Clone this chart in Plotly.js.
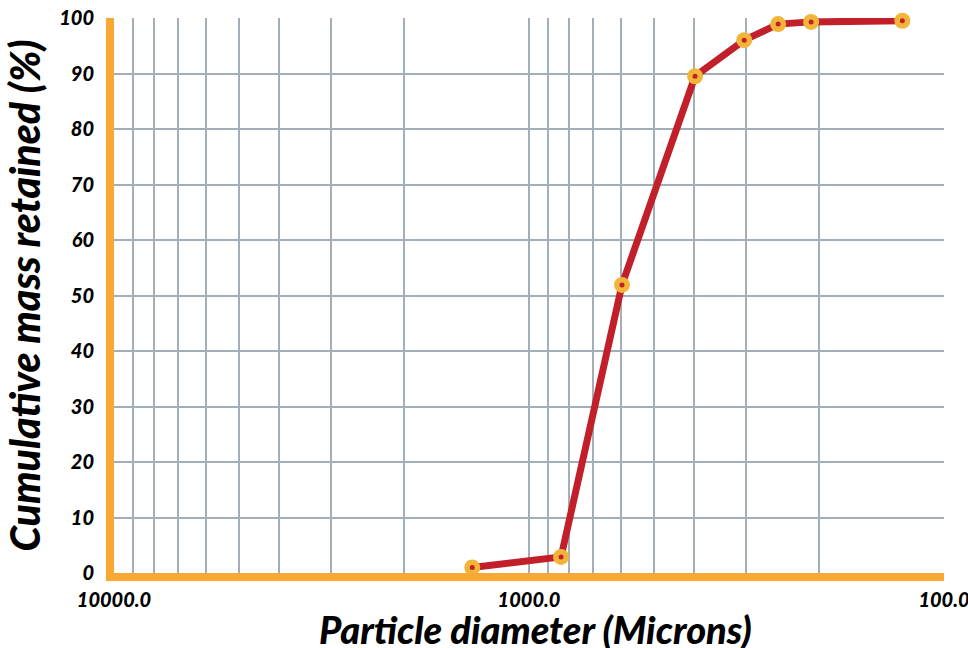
<!DOCTYPE html>
<html>
<head>
<meta charset="utf-8">
<script src="https://cdn.plot.ly/plotly-3.0.1.min.js"></script>
<style>html,body{margin:0;padding:0;background:#fff;}#chart{width:968px;height:648px;}</style>
</head>
<body>
<div id="chart"></div>
<script>
// Data
const diameters = [1370, 837, 597, 398, 303, 251, 209, 126];       // microns
const cumRetained = [1.0, 2.9, 51.9, 89.5, 96.0, 98.9, 99.3, 99.5]; // %

const xGridVals = [10000, 9000, 8000, 7000, 6000, 5000, 4000, 3000, 2000,
                   1000, 900, 800, 700, 600, 500, 400, 300, 200, 100];
const xLabelText = {10000: "10000.0", 1000: "1000.0", 100: "100.0"};
const xGridText = xGridVals.map(v => xLabelText[v] || "");
const yTicks = [0, 10, 20, 30, 40, 50, 60, 70, 80, 90, 100];
const xTitle = "Particle diameter (Microns)";
const yTitle = "Cumulative mass retained (%)";

const FONT = "'Lato Black', Lato, sans-serif";

const traces = [
  {
    x: diameters, y: cumRetained, type: "scatter", mode: "lines+markers",
    line: {color: "#C1202A", width: 7},
    marker: {color: "#F2B53A", size: 16, line: {width: 0}},
    hoverinfo: "skip", cliponaxis: false
  },
  {
    x: diameters, y: cumRetained, type: "scatter", mode: "markers",
    marker: {color: "#C1202A", size: 5, line: {width: 0}},
    hoverinfo: "skip", cliponaxis: false
  }
];

const layout = {
  width: 968, height: 648,
  margin: {l: 114, r: 24, t: 18, b: 75},
  paper_bgcolor: "#ffffff", plot_bgcolor: "#ffffff",
  showlegend: false,
  font: {family: FONT, color: "#000"},
  xaxis: {
    type: "log", range: [4, 2], autorange: false,
    tickmode: "array", tickvals: xGridVals, ticktext: xGridText,
    showgrid: true, gridcolor: "#A3AEB9", gridwidth: 2,
    zeroline: false, showline: true, linecolor: "#F9A834", linewidth: 8,
    ticks: "", ticklabelstandoff: 2, ticklabeloverflow: "allow",
    tickfont: {family: FONT, size: 20, color: "#000", weight: 900, style: "italic"}
  },
  yaxis: {
    range: [0, 100], autorange: false,
    tickmode: "array", tickvals: yTicks,
    showgrid: true, gridcolor: "#A3AEB9", gridwidth: 2,
    zeroline: false, showline: true, linecolor: "#F9A834", linewidth: 8,
    ticks: "", ticklabelstandoff: 8,
    tickfont: {family: FONT, size: 20, color: "#000", weight: 900, style: "italic"},
    title: {text: yTitle, standoff: 10,
            font: {family: FONT, size: 41, color: "#000", weight: 900, style: "italic"}}
  },
  annotations: [{
    text: xTitle, xref: "paper", yref: "paper", x: 0.508, y: -0.1,
    xanchor: "center", yanchor: "middle", showarrow: false,
    font: {family: FONT, size: 38, color: "#000", weight: 900, style: "italic"}
  }]
};

Plotly.newPlot("chart", traces, layout, {displayModeBar: false, staticPlot: true});
</script>
</body>
</html>
